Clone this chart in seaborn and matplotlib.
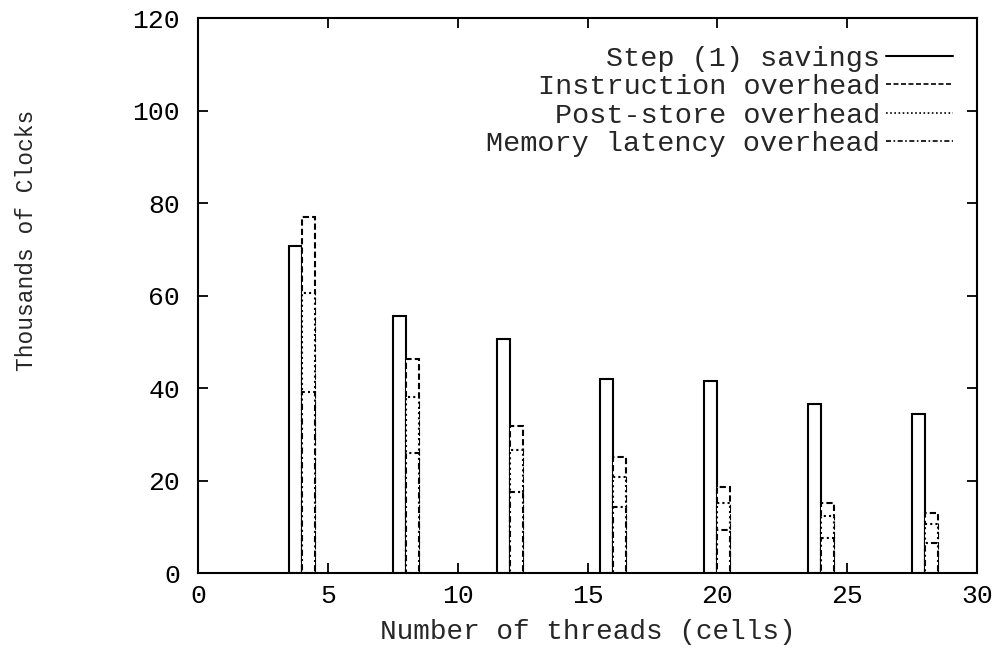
import matplotlib
matplotlib.use("Agg")
import matplotlib.pyplot as plt
from matplotlib.lines import Line2D
import numpy as np
import pandas as pd
import seaborn as sns

# Number of threads (cells)
threads = [4, 8, 12, 16, 20, 24, 28]
# Thousands of clocks
step1_savings = [70.7, 55.6, 50.7, 41.9, 41.5, 36.5, 34.4]
memory_latency = [39.2, 25.9, 17.6, 14.2, 9.4, 7.6, 6.4]
post_store = [21.3, 12.1, 9.0, 6.6, 5.7, 4.7, 4.3]
instruction = [16.5, 8.2, 5.2, 4.2, 3.4, 2.9, 2.3]

labels = ["Step (1) savings", "Instruction overhead",
          "Post-store overhead", "Memory latency overhead"]

sns.set_style("ticks")
plt.rcParams["font.family"] = ["Liberation Mono", "DejaVu Sans Mono"]

fig = plt.figure(figsize=(10, 6.48), dpi=100)
ax = fig.add_axes([0.198, 0.1157, 0.779, 0.8565])

half = 0.25
t = np.asarray(threads, dtype=float)
savings_df = pd.DataFrame({"x": t - half, "y": step1_savings})

mem = np.asarray(memory_latency)
post_top = mem + np.asarray(post_store)
instr_top = post_top + np.asarray(instruction)
stack_df = pd.DataFrame({
    "x": t + half,
    "instr": instr_top,
    "post": post_top,
    "mem": mem,
})

bar_kw = dict(native_scale=True, width=0.125, color="white", saturation=1,
              edgecolor="black", linewidth=1.5, errorbar=None, ax=ax)

sns.barplot(data=savings_df, x="x", y="y", linestyle="-", **bar_kw)
# Stacked overheads: draw cumulative tops from tallest down
sns.barplot(data=stack_df, x="x", y="instr", linestyle=(0, (3, 1.5)), **bar_kw)
sns.barplot(data=stack_df, x="x", y="post", linestyle=(0, (1, 1.5)), **bar_kw)
sns.barplot(data=stack_df, x="x", y="mem", linestyle=(0, (3, 1.5, 1, 1.5)), **bar_kw)

ax.set_xlim(0, 30)
ax.set_ylim(0, 120)
ax.set_xticks([0, 5, 10, 15, 20, 25, 30])
ax.set_yticks([0, 20, 40, 60, 80, 100, 120])
ax.set_xticklabels(["0", "5", "10", "15", "20", "25", "30"])
ax.set_yticklabels(["0", "20", "40", "60", "80", "100", "120"])

for s in ax.spines.values():
    s.set_visible(True)
    s.set_linewidth(1.5)
    s.set_color("black")

ax.tick_params(direction="in", length=7, width=1.3, top=True, right=True,
               labelsize=19, colors="black")
ax.tick_params(axis="x", pad=8)
ax.tick_params(axis="y", pad=13)
ax.set_xlabel("Number of threads (cells)", fontsize=20, labelpad=8)
ax.set_ylabel("Thousands of Clocks", fontsize=16.5)
ax.yaxis.set_label_coords(-0.205, 0.6)

handles = [
    Line2D([], [], color="black", lw=1.5, ls="-"),
    Line2D([], [], color="black", lw=1.2, ls=(0, (3, 1.5))),
    Line2D([], [], color="black", lw=1.2, ls=(0, (1, 1.5))),
    Line2D([], [], color="black", lw=1.2, ls=(0, (3, 1.5, 1, 1.5))),
]
ax.legend(handles, labels, loc="upper right", bbox_to_anchor=(1.0, 0.993),
          frameon=False, markerfirst=False,
          fontsize=20.5, handlelength=2.35, handletextpad=0.2, labelspacing=0.08,
          borderaxespad=0.45)

fig.savefig("out.png", dpi=100)
